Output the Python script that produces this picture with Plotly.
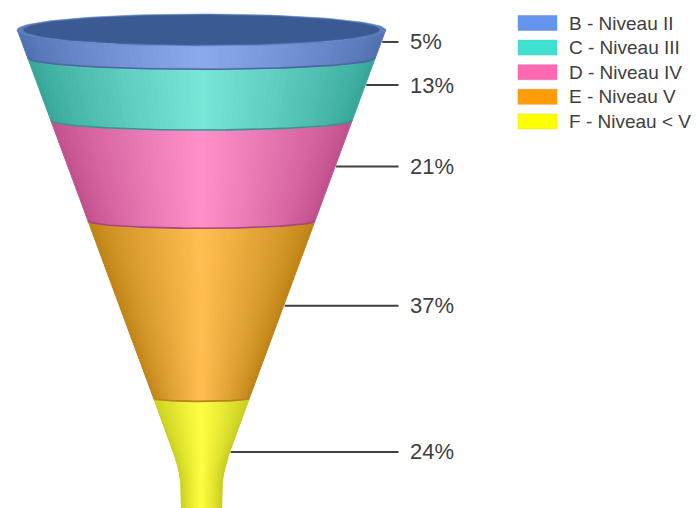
import math
import plotly.graph_objects as go

categories = ["B - Niveau II", "C - Niveau III", "D - Niveau IV", "E - Niveau V", "F - Niveau < V"]
shares = [5, 13, 21, 37, 24]
labels = ["5%", "13%", "21%", "37%", "24%"]
legend_colors = ["#6495ED", "#40E0D0", "#FF69B4", "#FF9C08", "#FFFF00"]
center_colors = ["#8AAAEC", "#78E6D8", "#FF90C8", "#FFBE50", "#FFFF40"]
edge_colors = ["#4F6FB0", "#35A598", "#C04E8C", "#BE8214", "#C8CE20"]
rim_dark = ["#4A68A0", "#3E8F90", "#A8477F", "#B88420", "#D0D020"]

PX_PER_PCT = 4.795
Y_LOW, Y_HIGH = -6.05, 99.9
SEAM = 1.0  # band edges sit slightly below the mid-label scale
LEADER_SHIFT = 0.2
STRIPS = 60


def radius(p):
    """Funnel half width in x-axis units at cumulative share p."""
    r = 184.5 - 0.37 * PX_PER_PCT * p
    neck = 20.0
    k = 3.0
    return neck + math.log(1 + math.exp((r - neck) / k)) * k


def hex2rgb(h):
    return tuple(int(h[i:i + 2], 16) for i in (1, 3, 5))


def mix(a, b, t):
    ca, cb = hex2rgb(a), hex2rgb(b)
    return "#%02x%02x%02x" % tuple(round(x + (y - x) * t) for x, y in zip(ca, cb))


def arc_point(p, u, flat):
    """u runs from -1 (left edge) to 1 (right edge) across the cone."""
    r = radius(p)
    return r * u, p + r * flat * math.sqrt(max(0.0, 1 - u * u)) / PX_PER_PCT


fig = go.Figure()
FLAT = 0.066
cum = 0
bounds = []
for s in shares:
    bounds.append((cum, cum + s))
    cum += s

for i in reversed(range(len(shares))):
    top = bounds[i][0] + (SEAM if i else 0.2)
    bottom = bounds[i][1] + SEAM
    if i == len(shares) - 1:
        bottom = Y_HIGH + 2
    top_flat = FLAT if i else 0.085
    for j in range(STRIPS):
        u0 = -1 + 2 * j / STRIPS
        u1 = -1 + 2 * (j + 1) / STRIPS
        um = (u0 + u1) / 2
        shade = mix(edge_colors[i], center_colors[i], (1 - abs(um)) ** 0.8)
        n = 14 if i == len(shares) - 1 else 2
        xs, ys = [], []
        for k in range(n + 1):
            q = top + (bottom - top) * k / n
            fl = top_flat + (FLAT - top_flat) * k / n
            x, y = arc_point(q, u0, fl)
            xs.append(x); ys.append(y)
        for k in range(n, -1, -1):
            q = top + (bottom - top) * k / n
            fl = top_flat + (FLAT - top_flat) * k / n
            x, y = arc_point(q, u1, fl)
            xs.append(x); ys.append(y)
        fig.add_trace(go.Scatter(x=xs, y=ys, mode="lines", fill="toself", fillcolor=shade,
                                 line=dict(color=shade, width=1), showlegend=False, hoverinfo="skip"))
    if i < len(shares) - 1:
        pts = [arc_point(bottom, -1 + j / 40, FLAT) for j in range(81)]
        fig.add_trace(go.Scatter(x=[a for a, _ in pts], y=[b for _, b in pts], mode="lines",
                                 line=dict(color=rim_dark[i], width=1.6), showlegend=False, hoverinfo="skip"))

# open mouth of the funnel
for a_scale, color in ((1.0, "#5B7DBE"), (0.965, "#3B5A94")):
    pts = [(184.5 * a_scale * math.cos(2 * math.pi * j / 120),
            0.2 + 16 * (a_scale ** 2) * math.sin(2 * math.pi * j / 120) / PX_PER_PCT) for j in range(121)]
    fig.add_trace(go.Scatter(x=[a for a, _ in pts], y=[b for _, b in pts], mode="lines", fill="toself",
                             fillcolor=color, line=dict(color=color, width=0.5), showlegend=False, hoverinfo="skip"))

# leader lines and labels
for (a, b), lab in zip(bounds, labels):
    mid = (a + b) / 2 + LEADER_SHIFT
    fig.add_trace(go.Scatter(x=[radius(mid) + 1, 197], y=[mid, mid], mode="lines",
                             line=dict(color="#404040", width=2), showlegend=False, hoverinfo="skip"))
    fig.add_annotation(x=206.5, y=mid, text=lab, showarrow=False, xanchor="left", yanchor="middle",
                       font=dict(family="Liberation Sans", size=22, color="#404040"))

# legend: wide swatches and labels
for n, (name, color) in enumerate(zip(categories, legend_colors)):
    yc = 23 + 24.6 * n
    fig.add_shape(type="rect", xref="paper", yref="paper", x0=518 / 697, x1=557 / 697,
                  y0=1 - (yc - 7.5) / 508, y1=1 - (yc + 7.5) / 508,
                  fillcolor=color, line=dict(color=mix(color, "#808080", 0.25), width=0.5))
    fig.add_annotation(xref="paper", yref="paper", x=567 / 697, y=1 - yc / 508, text=name, showarrow=False,
                       xanchor="left", yanchor="middle",
                       font=dict(family="Liberation Sans", size=19, color="#404040"))

fig.update_layout(
    width=697, height=508, margin=dict(l=0, r=0, t=0, b=0),
    paper_bgcolor="white", plot_bgcolor="white", showlegend=False,
    xaxis=dict(range=[-201.5, 495.5], visible=False, fixedrange=True),
    yaxis=dict(range=[Y_HIGH, Y_LOW], visible=False, fixedrange=True),
)
fig.write_html("out.html", config=dict(displayModeBar=False),
               post_script="document.body.style.margin='0';document.body.style.overflow='hidden';")
